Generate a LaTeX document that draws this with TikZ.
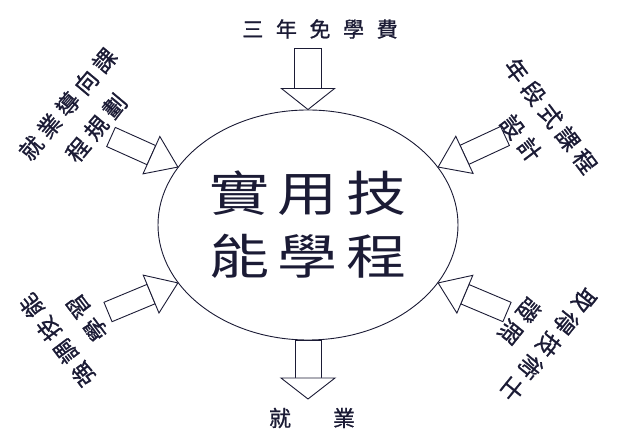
\documentclass[tikz,border=0pt]{standalone}
\usepackage{fontspec}
\usepackage{tikz}
\usetikzlibrary{calc,shapes.geometric}
\newfontfamily\cjkbig[FakeStretch=1.25,LetterSpace=17]{Noto Sans CJK TC}
\newfontfamily\cjktop[LetterSpace=60,FakeBold=1]{Noto Sans CJK TC}
\newfontfamily\cjkside[LetterSpace=24,FakeBold=1]{Noto Sans CJK TC}
\newfontfamily\cjk[FakeBold=1]{Noto Sans CJK TC}
\definecolor{cink}{HTML}{1B1B35}

% tail, tip, half shaft, half head, head length
\newcommand{\blockarrow}[5]{%
  \coordinate (hb) at ($(#2)!#5!(#1)$);
  \draw[blk] ($(#1)!#3!90:(#2)$) -- ($(#1)!#3!-90:(#2)$)
    -- ($(hb)!#3!-90:(#2)$) -- ($(hb)!#3!90:(#2)$) -- cycle;
  \draw[blk] ($(hb)!#4!90:(#2)$) -- (#2) -- ($(hb)!#4!-90:(#2)$) -- cycle;
}

\begin{document}
\begin{tikzpicture}[x=1pt,y=1pt,
  blk/.style={draw=cink,fill=white,line width=0.9pt},
  lbl/.style={text=cink,inner sep=0pt,align=center},
  side/.style={lbl,font={\cjkside\fontsize{23}{37}\selectfont}}]
  \useasboundingbox (0,0) rectangle (640,443);
  \node[draw=cink,line width=0.9pt,ellipse,minimum width=300pt,minimum height=230pt,
    lbl,font={\cjkbig\fontsize{48}{63}\selectfont}] (prog) at (308,218) {實用技\\能學程};
  % top and bottom
  \node[lbl,font={\cjktop\fontsize{21}{25}\selectfont}] (fee) at (320,414) {三年免學費};
  \node[lbl,font={\cjk\fontsize{22}{25}\selectfont}] (job) at (312,25) {就\hspace{42pt}業};
  \coordinate (feeend) at (308,395);
  \coordinate (jobend) at (308,44);
  \blockarrow{feeend}{prog.north}{13.5pt}{26.5pt}{21pt}
  \blockarrow{prog.south}{jobend}{13pt}{27pt}{21pt}
  % four sides
  \node[side,rotate=50] (plan) at (82,327) {就業導向課\\程規劃};
  \node[side,rotate=-53] (grade) at (536,316) {年段式課程\\設計};
  \node[side,rotate=127] (skill) at (72,114) {強調技能\\學習};
  \node[side,rotate=231] (cert) at (534,110) {取得技術士\\證照};
  \coordinate (planend) at (111,306);
  \coordinate (gradeend) at (505,307);
  \coordinate (skillend) at (108,131);
  \coordinate (certend) at (507,131);
  \blockarrow{planend}{prog.156}{10.5pt}{20.5pt}{29pt}
  \blockarrow{gradeend}{prog.24}{10.5pt}{20.5pt}{29pt}
  \blockarrow{skillend}{prog.204}{10.5pt}{20.5pt}{29pt}
  \blockarrow{certend}{prog.336}{10.5pt}{20.5pt}{29pt}
\end{tikzpicture}
\end{document}
